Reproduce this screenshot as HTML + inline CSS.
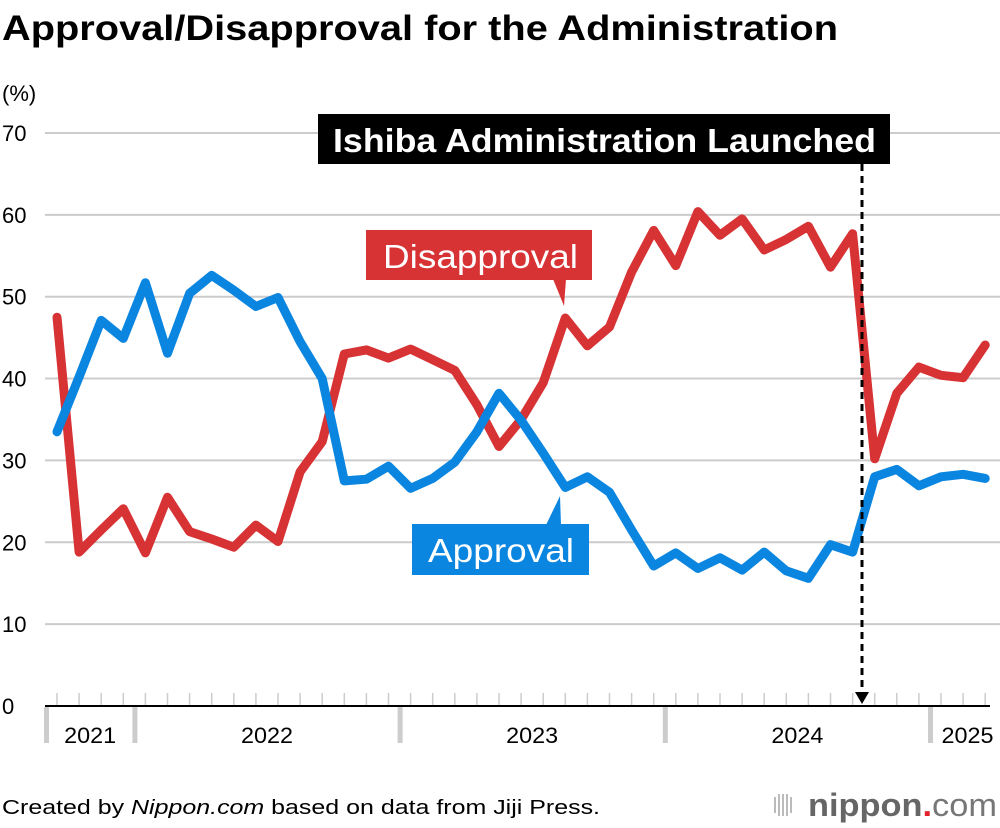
<!DOCTYPE html>
<html><head><meta charset="utf-8"><style>
body{margin:0;background:#fff;}
svg{display:block;font-family:"Liberation Sans",Arial,sans-serif;}
</style></head><body>
<svg id="chart" width="1000" height="828" viewBox="0 0 1000 828">
<text x="2" y="40" font-size="35" font-weight="bold" fill="#000" textLength="836" lengthAdjust="spacingAndGlyphs">Approval/Disapproval for the Administration</text>
<text x="2" y="101" font-size="22" fill="#000">(%)</text>
<g id="grid"></g>
<g id="xaxis"></g>
<g id="lines"></g>
<g id="labels">
<rect x="318" y="114" width="572" height="50" fill="#000"/>
<text x="333" y="152" font-size="33" font-weight="bold" fill="#fff" textLength="543" lengthAdjust="spacingAndGlyphs">Ishiba Administration Launched</text>
<line x1="862" y1="164" x2="862" y2="694" stroke="#000" stroke-width="3" stroke-dasharray="7,5"/>
<path d="M855,692 L869,692 L862,704 Z" fill="#000"/>
<rect x="366" y="230" width="226" height="50" fill="#d73234"/>
<path d="M553,279 L566,279 L564,306 Z" fill="#d73234"/>
<text x="383" y="268" font-size="33" fill="#fff" textLength="195" lengthAdjust="spacingAndGlyphs">Disapproval</text>
<rect x="412" y="524" width="177" height="51" fill="#0a85e0"/>
<path d="M546,525 L561,525 L560,496 Z" fill="#0a85e0"/>
<text x="428" y="562" font-size="33" fill="#fff" textLength="146" lengthAdjust="spacingAndGlyphs">Approval</text>
</g>
<text x="2" y="814" font-size="20" fill="#000" textLength="598" lengthAdjust="spacingAndGlyphs">Created by <tspan font-style="italic">Nippon.com</tspan> based on data from Jiji Press.</text>
<g>
<g stroke="#bbb" stroke-width="2"><line x1="775" y1="797" x2="775" y2="813"/><line x1="779" y1="794" x2="779" y2="816"/><line x1="783" y1="794" x2="783" y2="816"/><line x1="787" y1="794" x2="787" y2="816"/><line x1="791" y1="797" x2="791" y2="813"/></g>
<text x="808" y="816" font-size="32" font-weight="bold" fill="#666" textLength="189" lengthAdjust="spacingAndGlyphs">nippon<tspan fill="#e5202a">.</tspan><tspan font-weight="normal" fill="#777">com</tspan></text>
</g>
</svg>
<script>
const months = 43; // Sep 2021 .. Mar 2025
const yTicks = [0,10,20,30,40,50,60,70];
const approval = [33.5,40.2,47.1,44.9,51.7,43.1,50.4,52.6,50.8,48.8,49.9,44.5,40.0,27.5,27.7,29.3,26.6,27.8,29.8,33.5,38.2,34.9,30.9,26.7,28.0,26.1,21.5,17.1,18.7,16.8,18.1,16.6,18.8,16.5,15.6,19.7,18.8,28.0,28.9,26.9,28.0,28.3,27.8];
const disapproval = [47.5,18.8,21.5,24.1,18.7,25.5,21.3,20.4,19.4,22.1,20.1,28.6,32.3,43.0,43.5,42.5,43.6,42.3,41.0,36.8,31.7,35.0,39.5,47.4,44.0,46.3,53.0,58.1,53.8,60.4,57.5,59.5,55.7,57.0,58.6,53.6,57.7,30.2,38.2,41.4,40.4,40.1,44.1];
const years = ["2021","2022","2023","2024","2025"];
const yearStartIdx = [0,4,16,28,40];

const NS="http://www.w3.org/2000/svg";
function X(i){return 57+i*22.1;}
function Y(v){return 706-v*8.186;}
function mk(tag,attrs,parent){const e=document.createElementNS(NS,tag);for(const k in attrs)e.setAttribute(k,attrs[k]);parent.appendChild(e);return e;}
const grid=document.getElementById('grid');
yTicks.forEach(t=>{
  if(t>0){const l=mk('line',{x1:45,x2:1000,y1:Y(t),y2:Y(t),stroke:'#ccc','stroke-width':2},grid);
  
  }
  const tx=mk('text',{x:2,y:Y(t)+8,'font-size':22,fill:'#000'},grid);
  tx.textContent=t;
  
  
});
const xa=document.getElementById('xaxis');
for(let i=0;i<months;i++){
  const l=mk('line',{x1:X(i),x2:X(i),y1:693,y2:705,stroke:'#ccc','stroke-width':1.5},xa);
  
  
}
const base=mk('line',{x1:45,x2:990,y1:706,y2:706,stroke:'#000','stroke-width':2},xa);


years.forEach((y,k)=>{
  const sx=X(yearStartIdx[k])-11;
  const ex=k<years.length-1?X(yearStartIdx[k+1])-11:997;
  const sep=mk('rect',{x:sx-2,y:707,width:5,height:36,fill:'#ccc'},xa);
  
  
  const t=mk('text',{x:k<years.length-1?(sx+ex)/2:(sx+ex)/2+4,y:743,'font-size':22,fill:'#000','text-anchor':'middle',textLength:52,lengthAdjust:'spacingAndGlyphs'},xa);
  t.textContent=y;
  
  
});
const lg=document.getElementById('lines');
function draw(arr,color,name){
  const d=arr.map((v,i)=>(i?'L':'M')+X(i).toFixed(1)+','+Y(v).toFixed(1)).join(' ');
  const p=mk('path',{d:d,fill:'none',stroke:color,'stroke-width':9,'stroke-linejoin':'round','stroke-linecap':'round'},lg);
  
  
}
draw(disapproval,'#d73234','disapproval-line');
draw(approval,'#0a85e0','approval-line');
</script>
</body></html>
